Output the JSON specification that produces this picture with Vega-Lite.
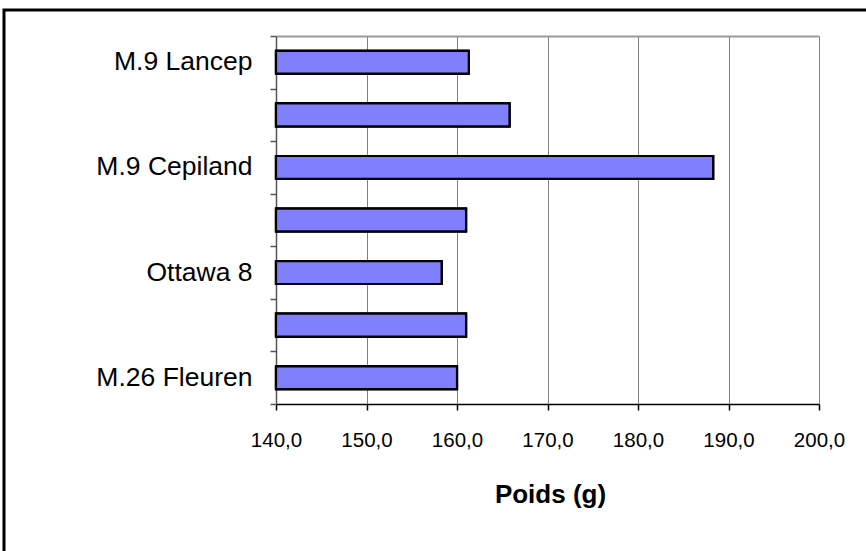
{
  "$schema": "https://vega.github.io/schema/vega-lite/v6.json",
  "width": 870,
  "height": 550,
  "autosize": "none",
  "padding": {"left": 4, "top": 10, "right": -8, "bottom": -9},
  "background": "white",
  "config": {
    "font": "Liberation Sans",
    "view": {"stroke": "black", "strokeWidth": 3}
  },
  "data": {
    "values": [
      {"porte_greffe": "M.9 Lancep", "poids": 161.3},
      {"porte_greffe": "(sans étiquette 2)", "poids": 165.8},
      {"porte_greffe": "M.9 Cepiland", "poids": 188.3},
      {"porte_greffe": "(sans étiquette 4)", "poids": 161.0},
      {"porte_greffe": "Ottawa 8", "poids": 158.3},
      {"porte_greffe": "(sans étiquette 6)", "poids": 161.0},
      {"porte_greffe": "M.26 Fleuren", "poids": 160.0}
    ]
  },
  "layer": [
    {
      "mark": {"type": "bar", "fill": "#8080FF", "stroke": "black", "strokeWidth": 2.2},
      "encoding": {
        "y": {
          "field": "porte_greffe", "type": "nominal", "sort": null,
          "scale": {"range": [26, 394], "paddingInner": 0.565, "paddingOuter": 0.2825},
          "axis": {
            "orient": "left", "offset": -272, "title": null, "ticks": false,
            "domain": true, "domainColor": "#555555", "domainWidth": 1.5,
            "labelFontSize": 26.5, "labelColor": "black", "labelPadding": 24,
            "labelExpr": "indexof(['M.9 Lancep','M.9 Cepiland','Ottawa 8','M.26 Fleuren'], datum.value) >= 0 ? datum.value : ''"
          }
        },
        "x": {
          "field": "poids", "type": "quantitative",
          "scale": {"domain": [140, 200], "range": [272, 815], "zero": false, "nice": false},
          "axis": {
            "orient": "bottom", "offset": -156, "title": "Poids (g)",
            "values": [140, 150, 160, 170, 180, 190, 200],
            "labelExpr": "replace(format(datum.value, '.1f'), '.', ',')",
            "labelFlush": false, "labelOverlap": false,
            "grid": false,
            "domainColor": "black", "domainWidth": 1.5,
            "tickColor": "black", "tickWidth": 1.5, "tickSize": 6,
            "labelFontSize": 20.5, "labelPadding": 20, "labelColor": "black",
            "titleFontSize": 26, "titleFontWeight": "bold", "titleColor": "black",
            "titleBaseline": "alphabetic", "titleY": 98, "titleX": 546
          }
        },
        "x2": {"datum": 140}
      }
    },
    {
      "mark": {"type": "bar", "fill": "#8080FF", "stroke": "black", "strokeWidth": 2.2},
      "encoding": {
        "y": {
          "field": "porte_greffe", "type": "nominal", "sort": null,
          "axis": {
            "orient": "left", "offset": -272, "title": null, "labels": false,
            "domain": false, "grid": false, "ticks": true,
            "tickColor": "#555555", "tickWidth": 1.5, "tickSize": 6,
            "bandPosition": 0, "tickOffset": -14.85
          }
        },
        "x": {
          "field": "poids", "type": "quantitative",
          "axis": {
            "orient": "top", "offset": -26, "title": null, "labels": false,
            "ticks": false, "grid": true, "domain": true,
            "values": [150, 160, 170, 180, 190, 200],
            "gridColor": "#808080", "gridWidth": 1,
            "domainColor": "#999999", "domainWidth": 2
          }
        },
        "x2": {"datum": 140}
      }
    },
    {
      "mark": {"type": "bar", "fill": "#8080FF", "stroke": "black", "strokeWidth": 2.2},
      "encoding": {
        "y": {
          "field": "porte_greffe", "type": "nominal", "sort": null,
          "axis": {
            "orient": "left", "offset": -272, "title": null, "labels": false,
            "domain": false, "grid": false, "ticks": true,
            "values": ["M.26 Fleuren"],
            "tickColor": "#555555", "tickWidth": 1.5, "tickSize": 6,
            "bandPosition": 1, "tickOffset": 14.85
          }
        },
        "x": {
          "field": "poids", "type": "quantitative",
          "axis": null
        },
        "x2": {"datum": 140}
      }
    }
  ],
  "resolve": {"axis": {"x": "independent", "y": "independent"}}
}
